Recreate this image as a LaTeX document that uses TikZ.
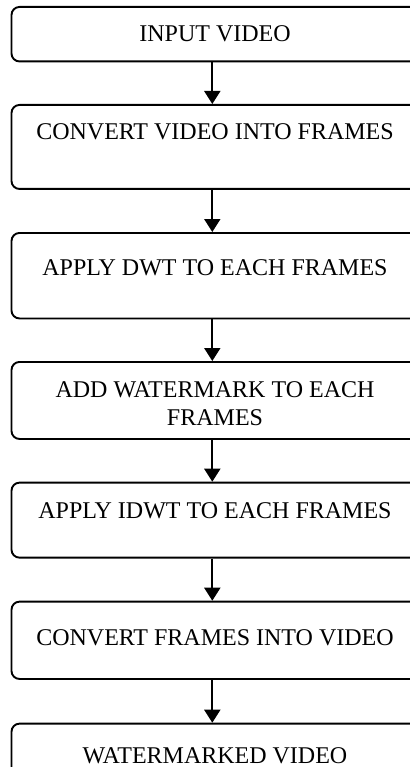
\documentclass[tikz,border=0pt]{standalone}
\usepackage{fontspec}
\setmainfont{Liberation Serif}
\usetikzlibrary{arrows.meta}
\begin{document}
\begin{tikzpicture}[x=1pt,y=-1pt,
  stepbox/.style={draw, line width=1.9pt, rounded corners=8pt,
    minimum width=407pt, inner sep=0pt, anchor=north},
  steptext/.style={font=\fontsize{24}{27.5}\selectfont, anchor=base,
    inner sep=0pt, align=center},
  flow/.style={line width=2pt, -{Triangle[width=16pt,length=13pt]}}]
\useasboundingbox (0,0) rectangle (409,767);

% process boxes
\node[stepbox, minimum height=54.5pt] (b1) at (215,6) {};
\node[stepbox, minimum height=84pt]   (b2) at (215,104) {};
\node[stepbox, minimum height=85.5pt] (b3) at (215,232) {};
\node[stepbox, minimum height=77pt]   (b4) at (215,361) {};
\node[stepbox, minimum height=75pt]   (b5) at (215,481.7) {};
\node[stepbox, minimum height=77.3pt] (b6) at (215,600.7) {};
\node[stepbox, minimum height=54.5pt] (b7) at (215,722.7) {};

% box captions (a two-line caption is placed by its last baseline)
\node[steptext] (t1) at (215,41.7) {INPUT VIDEO};
\node[steptext] (t2) at (215,140) {CONVERT VIDEO INTO FRAMES};
\node[steptext] (t3) at (215,275) {APPLY DWT TO EACH FRAMES};
\node[steptext] (t4) at (215,425) {ADD WATERMARK TO EACH\\FRAMES};
\node[steptext] (t5) at (215,518) {APPLY IDWT TO EACH FRAMES};
\node[steptext] (t6) at (215,645) {CONVERT FRAMES INTO VIDEO};
\node[steptext] (t7) at (215,763) {WATERMARKED VIDEO};

% flow arrows
\coordinate (ax) at (212.3,0);
\draw[flow] (b1.south -| ax) -- (b2.north -| ax);
\draw[flow] (b2.south -| ax) -- (b3.north -| ax);
\draw[flow] (b3.south -| ax) -- (b4.north -| ax);
\draw[flow] (b4.south -| ax) -- (b5.north -| ax);
\draw[flow] (b5.south -| ax) -- (b6.north -| ax);
\draw[flow] (b6.south -| ax) -- (b7.north -| ax);
\end{tikzpicture}
\end{document}
